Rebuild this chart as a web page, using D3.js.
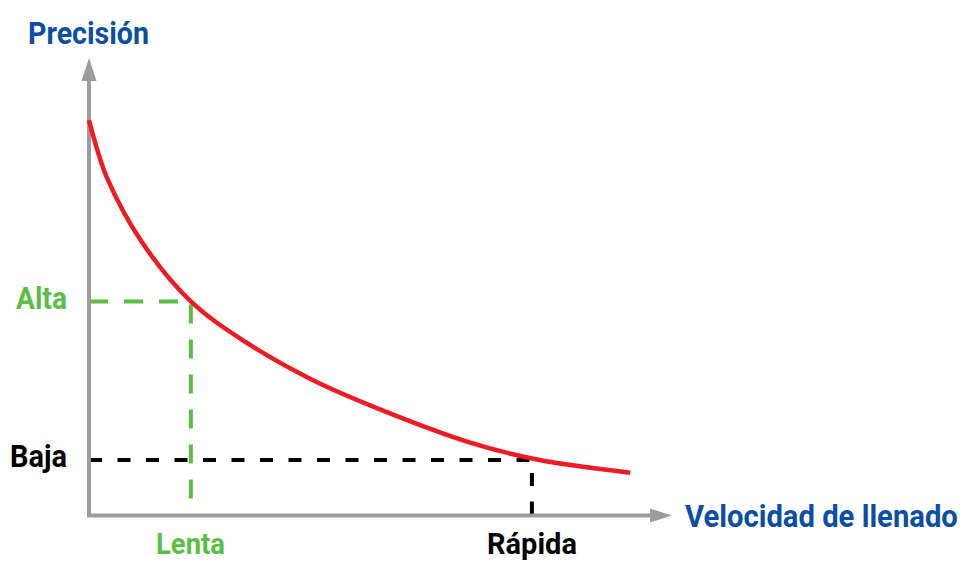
<!DOCTYPE html>
<html>
<head>
<meta charset="utf-8">
<script src="https://cdn.jsdelivr.net/npm/d3@7"></script>
<style>
  html, body { margin: 0; padding: 0; background: #fff; }
  svg { display: block; }
  text { font-family: Roboto, "Noto Sans", sans-serif; font-weight: 700; }
</style>
</head>
<body>
<svg id="chart" width="966" height="561"></svg>
<script>
// ---- data (speed vs precision, arbitrary units 0..10) ----
const speed     = [0, 0.11, 0.30, 0.90, 1.75, 2.70, 3.85, 5.00, 6.55, 7.70, 9.30];
const precision = [8.68, 8.17, 7.44, 6.02, 4.70, 3.80, 2.97, 2.33, 1.60, 1.23, 0.94];
const slowSpeed = 1.75, highPrecision = 4.70;   // Lenta / Alta
const fastSpeed = 7.61, lowPrecision = 1.22;    // Rápida / Baja
const yAxisTitle = "Precisión";
const xAxisTitle = "Velocidad de llenado";
const yLabels = ["Alta", "Baja"];
const xLabels = ["Lenta", "Rápida"];

const svg = d3.select("#chart");
const x = d3.scaleLinear().domain([0, 10]).range([89, 671]);
const y = d3.scaleLinear().domain([0, 10]).range([515.5, 60]);

const gray = "#9c9ca0", red = "#ed1c24", green = "#5cbd46", blue = "#0b4ea2";

// guide lines
function guide(xv, yv, color, dash) {
  svg.append("path")
    .attr("d", `M${x(0)},${y(yv)} H${x(xv)} V${y(0)}`)
    .attr("fill", "none").attr("stroke", color)
    .attr("stroke-width", 4).attr("stroke-dasharray", dash);
}
guide(slowSpeed, highPrecision, green, "19,16");
guide(fastSpeed, lowPrecision, "#000", "13,15.5");

// axes
svg.append("path")
  .attr("d", `M${x(0)},${y(0)+2} V${y(10)+20} M${x(0)-2},${y(0)} H${x(10)-20}`)
  .attr("stroke", gray).attr("stroke-width", 4).attr("fill", "none");
svg.append("path")
  .attr("d", `M${x(0)},${y(10)-2} L${x(0)+7.5},${y(10)+21} L${x(0)-7.5},${y(10)+21} Z`)
  .attr("fill", gray);
svg.append("path")
  .attr("d", `M${x(10)+1},${y(0)} L${x(10)-21},${y(0)-7} L${x(10)-21},${y(0)+7} Z`)
  .attr("fill", gray);

// curve
const line = d3.line().x((d, i) => x(speed[i])).y(d => y(d)).curve(d3.curveCatmullRom.alpha(0.5));
svg.append("path").attr("d", line(precision))
  .attr("fill", "none").attr("stroke", red).attr("stroke-width", 4.5);

// texts (condensed by horizontal scaling to the reference width)
function label(t, px, py, len, color, size) {
  const el = svg.append("text").attr("x", 0).attr("y", 0)
    .attr("fill", color).attr("font-size", size).text(t);
  const w = el.node().getComputedTextLength();
  el.attr("transform", `translate(${px},${py}) scale(${len / w},1)`);
}
label(yAxisTitle, 28, 44, 121, blue, 31);
label(xAxisTitle, 685, 527, 273, blue, 31);
label(yLabels[0], 16, 309, 51, green, 32);
label(yLabels[1], 10, 467, 57, "#000", 31);
label(xLabels[0], 156, 553.5, 69, green, 30);
label(xLabels[1], 487, 553.5, 90, "#000", 30);
</script>
</body>
</html>
